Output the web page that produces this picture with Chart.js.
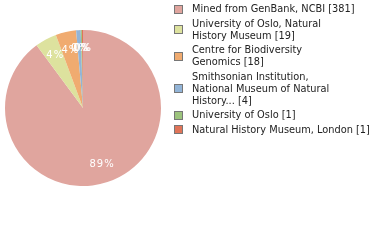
<!DOCTYPE html>
<html>
<head>
<meta charset="utf-8">
<script src="https://cdn.jsdelivr.net/npm/chart.js@4/dist/chart.umd.min.js"></script>
<style>
  html, body { margin: 0; padding: 0; background: #fff; }
  #wrap { position: relative; width: 380px; height: 240px; }
  #pie { position: absolute; left: 0; top: 0; }
  #legend { position: absolute; left: 174px; top: 3px; font-family: "DejaVu Sans"; font-size: 9.8px; color: #222; }
  .item { position: relative; padding-left: 18px; line-height: 12px; margin-bottom: 2.5px; }
  .item.gap { margin-top: 2.5px; }
  .box { position: absolute; left: 0; width: 7px; height: 7px; border: 1px solid #777; }
</style>
</head>
<body>
<div id="wrap">
  <canvas id="pie" width="380" height="240"></canvas>
  <div id="legend"></div>
</div>
<script>
// -----------------------------------------------------------------
// data
const categories = [
  'Mined from GenBank, NCBI',
  'University of Oslo, Natural History Museum',
  'Centre for Biodiversity Genomics',
  'Smithsonian Institution, National Museum of Natural History',
  'University of Oslo',
  'Natural History Museum, London'
];
// legend lines as wrapped in the picture
const legendLines = [
  ['Mined from GenBank, NCBI'],
  ['University of Oslo, Natural', 'History Museum'],
  ['Centre for Biodiversity', 'Genomics'],
  ['Smithsonian Institution,', 'National Museum of Natural', 'History...'],
  ['University of Oslo'],
  ['Natural History Museum, London']
];
const counts = [381, 19, 18, 4, 1, 1];
const colors = ['#e0a59e', '#dde29e', '#f0ab70', '#92b4d7', '#9dc47d', '#e07458'];

const total = counts.reduce((a, b) => a + b, 0);

// -----------------------------------------------------------------
// percent labels inside slices
const sliceLabels = {
  id: 'sliceLabels',
  afterDatasetsDraw(chart) {
    const { ctx } = chart;
    const meta = chart.getDatasetMeta(0);
    ctx.save();
    ctx.fillStyle = '#fff';
    ctx.font = '10px "DejaVu Sans"';
    ctx.textAlign = 'center';
    ctx.textBaseline = 'middle';
    meta.data.forEach((arc, i) => {
      const { x, y, startAngle, endAngle, outerRadius } = arc.getProps(['x', 'y', 'startAngle', 'endAngle', 'outerRadius'], true);
      const mid = (startAngle + endAngle) / 2;
      const r = outerRadius * 0.76;
      const pct = Math.floor(counts[i] / total * 100) + '%';
      ctx.fillText(pct.split('').join(String.fromCharCode(8202)), x + Math.cos(mid) * r, y + Math.sin(mid) * r);
    });
    ctx.restore();
  }
};

new Chart(document.getElementById('pie'), {
  type: 'pie',
  data: {
    labels: categories,
    datasets: [{
      data: counts,
      backgroundColor: colors,
      borderWidth: 0
    }]
  },
  options: {
    responsive: false,
    animation: false,
    layout: { padding: { left: 5, right: 219, top: 30, bottom: 54 } },
    plugins: { legend: { display: false }, tooltip: { enabled: false } }
  },
  plugins: [sliceLabels]
});

// -----------------------------------------------------------------
// legend
const legend = document.getElementById('legend');
legendLines.forEach((lines, i) => {
  const item = document.createElement('div');
  item.className = i === 3 ? 'item gap' : 'item';
  const box = document.createElement('span');
  box.className = 'box';
  box.style.background = colors[i];
  box.style.top = ((lines.length * 12) / 2 - 4.5) + 'px';
  item.appendChild(box);
  const text = lines.slice();
  text[text.length - 1] += ' [' + counts[i] + ']';
  text.forEach((t) => {
    const line = document.createElement('div');
    line.textContent = t;
    item.appendChild(line);
  });
  legend.appendChild(item);
});
</script>
</body>
</html>
